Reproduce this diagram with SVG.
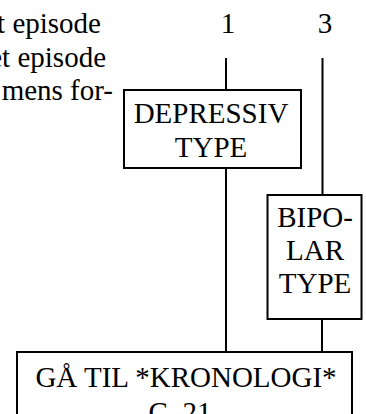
<svg xmlns="http://www.w3.org/2000/svg" width="366" height="414" viewBox="0 0 366 414">
<style>
text{font-family:"Liberation Serif","Times New Roman",serif;font-size:29px;fill:#000}
.box{fill:#fff;stroke:#000;stroke-width:2}
.ln{stroke:#000;stroke-width:2;fill:none}
</style>
<rect width="366" height="414" fill="#fff"/>
<g id="intro-text">
<text x="101" y="33" text-anchor="end">t episode</text>
<text x="106" y="67" text-anchor="end">et episode</text>
<text x="113" y="100" text-anchor="end">mens for-</text>
</g>
<g id="labels">
<text x="228" y="33" text-anchor="middle">1</text>
<text x="325" y="33" text-anchor="middle">3</text>
</g>
<g id="connectors">
<line class="ln" x1="226" y1="58" x2="226" y2="90"/>
<line class="ln" x1="322.5" y1="58" x2="322.5" y2="195"/>
<line class="ln" x1="226" y1="168" x2="226" y2="352"/>
<line class="ln" x1="322" y1="319" x2="322" y2="352"/>
</g>
<g id="depressiv">
<rect class="box" x="124" y="90" width="177" height="78"/>
<text x="211" y="123" text-anchor="middle">DEPRESSIV</text>
<text x="211" y="157" text-anchor="middle">TYPE</text>
</g>
<g id="bipolar">
<rect class="box" x="267.5" y="195" width="94" height="124"/>
<text x="315" y="227" text-anchor="middle">BIPO-</text>
<text x="315" y="260" text-anchor="middle">LAR</text>
<text x="315" y="293" text-anchor="middle">TYPE</text>
</g>
<g id="kronologi">
<rect class="box" x="17" y="352" width="335" height="80"/>
<text x="186" y="387" text-anchor="middle">GÅ TIL *KRONOLOGI*</text>
<text x="180" y="422" text-anchor="middle">C. 21</text>
</g>
</svg>
